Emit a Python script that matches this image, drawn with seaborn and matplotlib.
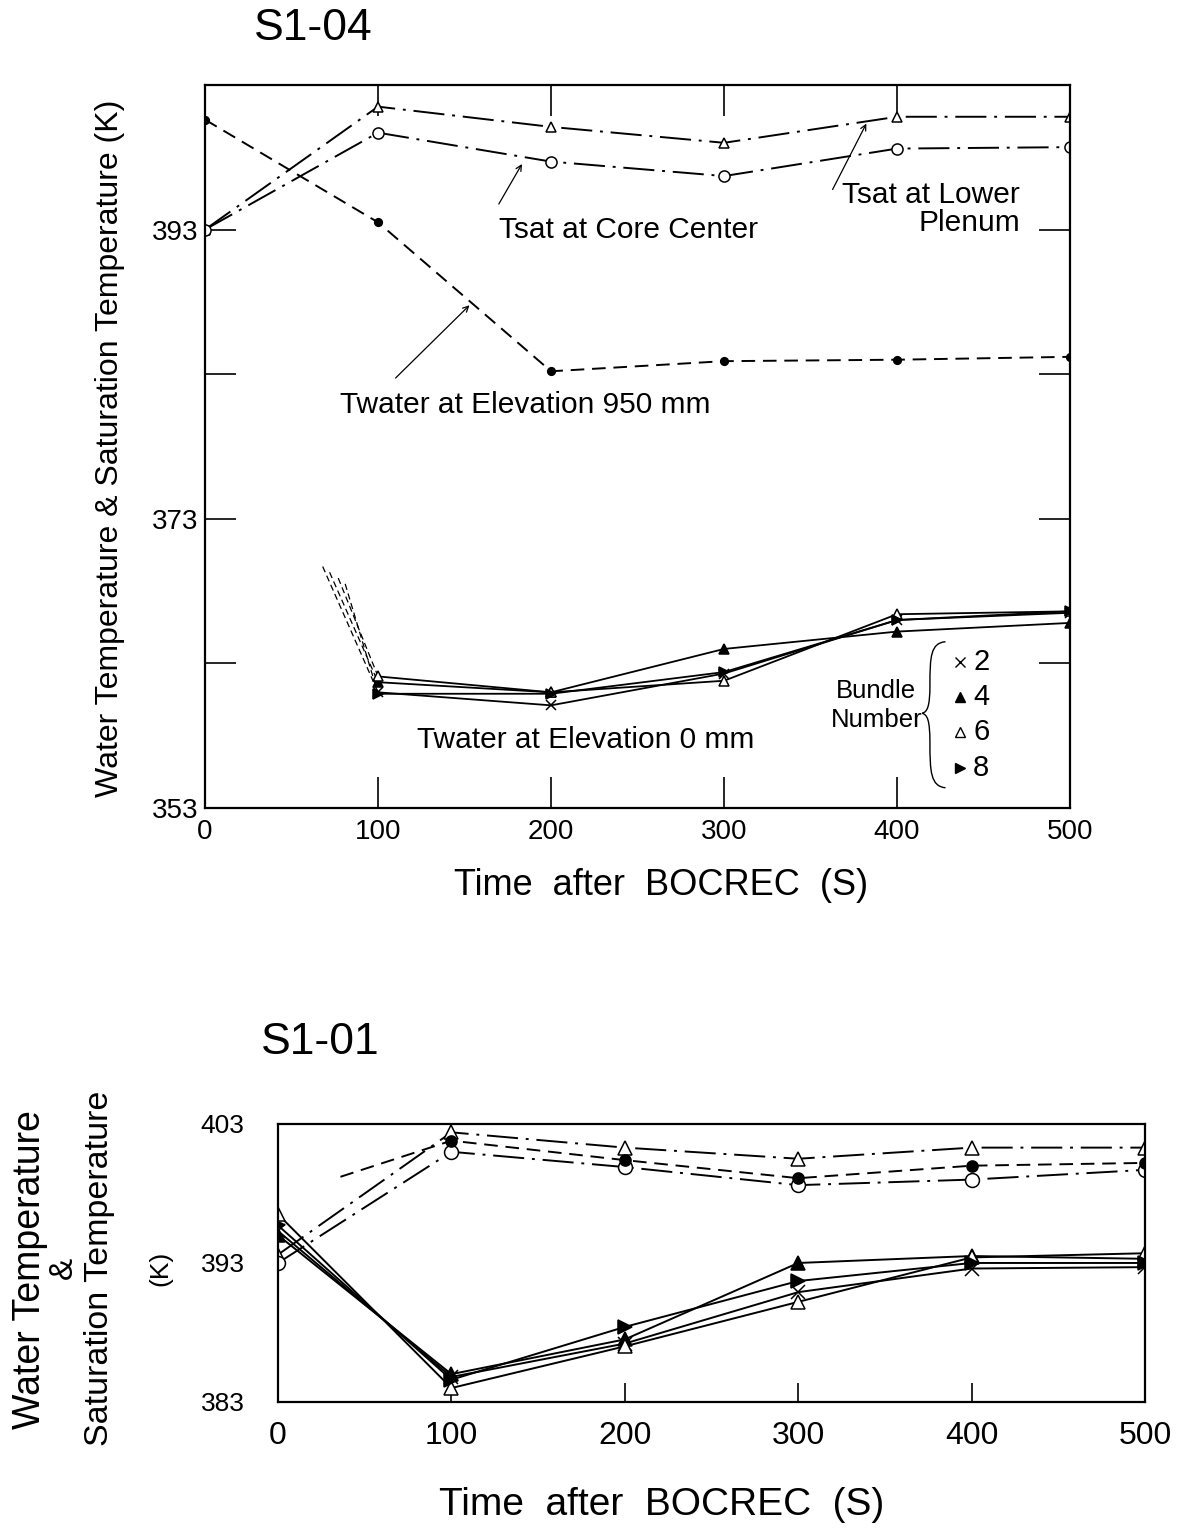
import numpy as np
import pandas as pd
import matplotlib
matplotlib.use("Agg")
import matplotlib.pyplot as plt
import seaborn as sns
from matplotlib.path import Path
from matplotlib.patches import PathPatch

# ---------------- data ----------------
time_s = [0, 100, 200, 300, 400, 500]
time_bundle = [100, 200, 300, 400, 500]

# Run S1-04
s104_tsat_lower = [393.0, 401.5, 400.1, 399.0, 400.8, 400.8]
s104_tsat_core = [393.0, 399.7, 397.7, 396.7, 398.6, 398.7]
s104_water_950 = [400.6, 393.5, 383.2, 383.9, 384.0, 384.2]
s104_bundle2 = [361.0, 360.1, 362.3, 366.0, 366.5]
s104_bundle4 = [361.7, 361.0, 364.0, 365.2, 365.8]
s104_bundle6 = [362.1, 361.0, 361.8, 366.4, 366.6]
s104_bundle8 = [360.9, 360.9, 362.4, 366.0, 366.6]
# early (unmeasured) approach of the bundle traces toward t = 100 s
s104_lead_time = [68, 72, 77, 81]
s104_lead_temp = [369.7, 369.3, 368.9, 368.5]

# Run S1-01
s101_tsat_lower = [393.6, 402.4, 401.3, 400.5, 401.3, 401.3]
s101_tsat_core = [393.0, 401.0, 399.9, 398.6, 399.0, 399.7]
s101_water_time = [36, 100, 200, 300, 400, 500]
s101_water_950 = [399.2, 401.8, 400.4, 399.1, 400.0, 400.2]
s101_bundle2 = [395.3, 384.8, 387.2, 390.9, 392.6, 392.7]
s101_bundle4 = [395.0, 385.0, 387.5, 393.0, 393.5, 393.3]
s101_bundle6 = [396.5, 384.0, 387.0, 390.2, 393.4, 393.7]
s101_bundle8 = [395.7, 384.6, 388.4, 391.7, 393.0, 393.0]

bundle_labels = ["2", "4", "6", "8"]
bundle_markers = ["x", "^", "^", ">"]
bundle_faces = ["black", "black", "white", "black"]

x_ticks = [0, 100, 200, 300, 400, 500]

# ---------------- style ----------------
sns.set_style("ticks")
plt.rcParams["font.family"] = ["Liberation Sans", "DejaVu Sans"]
plt.rcParams.update({
    "axes.linewidth": 1.6,
    "axes.edgecolor": "black",
    "text.color": "black",
    "xtick.color": "black",
    "ytick.color": "black",
    "xtick.labelcolor": "black",
    "ytick.labelcolor": "black",
})

DASHDOT = (0, (16, 4, 1.5, 4))
DASHED = (0, (7, 4))


def trace(ax, x, y, marker, ms, ls="-", face="black", lw=1.4, **kw):
    sns.lineplot(x=x, y=y, ax=ax, color="black", linestyle=ls, linewidth=lw,
                 marker=marker, markersize=ms, markerfacecolor=face,
                 markeredgecolor="black", markeredgewidth=1.1,
                 sort=False, estimator=None, legend=False, **kw)


fig = plt.figure(figsize=(11.79, 15.28), dpi=100)

# ================= S1-04 =================
ax1 = fig.add_axes([0.1739, 0.4712, 0.7337, 0.4732])
trace(ax1, time_s, s104_tsat_lower, "^", 7, face="white", ls=DASHDOT)
trace(ax1, time_s, s104_tsat_core, "o", 8, face="white", ls=DASHDOT)
trace(ax1, time_s, s104_water_950, "o", 5.5, ls=DASHED)

s104_bundles = [s104_bundle2, s104_bundle4, s104_bundle6, s104_bundle8]
for vals, mk, fc, t0, v0 in zip(s104_bundles, bundle_markers, bundle_faces,
                                s104_lead_time, s104_lead_temp):
    sns.lineplot(x=[t0, time_bundle[0]], y=[v0, vals[0]], ax=ax1, color="black",
                 linestyle=(0, (5, 3)), linewidth=0.9, sort=False,
                 estimator=None, legend=False)
    trace(ax1, time_bundle, vals, mk, 7, face=fc, ls="-", lw=1.3)

ax1.set_xlim(0, 500)
ax1.set_ylim(353, 403)
ax1.set_xticks(x_ticks)
ax1.set_xticklabels([str(v) for v in x_ticks])
ax1.set_yticks([353, 363, 373, 383, 393, 403])
ax1.set_yticklabels(["353", "", "373", "", "393", ""])
ax1.tick_params(direction="in", length=22, width=1.2, top=True, right=True,
                labelsize=20, pad=8)
ax1.tick_params(axis="y", pad=5)
ax1.set_xlabel("")
ax1.set_ylabel("")

txt = dict(fontsize=21.5, color="black")
ax1.text(245, 393.0, "Tsat at Core Center", ha="center", va="center", **txt)
ax1.annotate("", xy=(184, 397.7), xytext=(169, 394.6),
             arrowprops=dict(arrowstyle="->", lw=0.9, color="black"))
ax1.text(471, 394.4, "Tsat at Lower\nPlenum", ha="right", va="center",
         linespacing=1.0, **txt)
ax1.annotate("", xy=(383, 400.5), xytext=(362, 395.6),
             arrowprops=dict(arrowstyle="->", lw=0.9, color="black"))
ax1.text(185, 380.9, "Twater at Elevation 950 mm", ha="center", va="center", **txt)
ax1.annotate("", xy=(154, 387.9), xytext=(109, 382.6),
             arrowprops=dict(arrowstyle="->", lw=0.9, color="black"))
ax1.text(220, 357.7, "Twater at Elevation 0 mm", ha="center", va="center", **txt)

# bundle key with a curly brace
ax1.text(0.776, 0.142, "Bundle\nNumber", transform=ax1.transAxes, ha="center",
         va="center", linespacing=1.25, fontsize=18.5)
brace = Path(
    [(0.856, 0.230), (0.839, 0.228), (0.838, 0.21), (0.838, 0.17),
     (0.838, 0.14), (0.835, 0.133), (0.829, 0.131),
     (0.835, 0.129), (0.838, 0.122), (0.838, 0.09),
     (0.838, 0.05), (0.839, 0.030), (0.856, 0.028)],
    [Path.MOVETO] + [Path.CURVE4] * 12)
ax1.add_patch(PathPatch(brace, transform=ax1.transAxes, fill=False, lw=1.0,
                        edgecolor="black"))
key_y = [0.202, 0.154, 0.105, 0.055]
for lab, mk, fc, ky in zip(bundle_labels, bundle_markers, bundle_faces, key_y):
    ax1.plot([0.873], [ky], transform=ax1.transAxes, marker=mk, markersize=7,
             markerfacecolor=fc, markeredgecolor="black", markeredgewidth=1.0,
             linestyle="none", clip_on=False)
    ax1.text(0.888, ky, lab, transform=ax1.transAxes, ha="left", va="center",
             fontsize=21)

fig.text(313 / 1179, 1 - 28 / 1528, "S1-04", ha="center", va="center",
         fontsize=32)
fig.text(110 / 1179, 1 - 448 / 1528,
         "Water Temperature & Saturation Temperature (K)",
         rotation=90, ha="center", va="center", fontsize=23)
fig.text(661 / 1179, 1 - 885 / 1528, "Time  after  BOCREC  (S)", ha="center",
         va="center", fontsize=26)

# ================= S1-01 =================
ax2 = fig.add_axes([0.2358, 0.0825, 0.7354, 0.1819])
trace(ax2, time_s, s101_tsat_lower, "^", 10, face="white", ls=DASHDOT)
trace(ax2, time_s, s101_tsat_core, "o", 10, face="white", ls=DASHDOT)
trace(ax2, s101_water_time, s101_water_950, "o", 8, ls=DASHED,
      markevery=[1, 2, 3, 4, 5])
s101_bundles = [s101_bundle2, s101_bundle4, s101_bundle6, s101_bundle8]
for vals, mk, fc in zip(s101_bundles, bundle_markers, bundle_faces):
    trace(ax2, time_s, vals, mk, 10, face=fc, ls="-", lw=1.4)

ax2.set_xlim(0, 500)
ax2.set_ylim(383, 403)
ax2.set_xticks(x_ticks)
ax2.set_xticklabels([str(v) for v in x_ticks])
ax2.set_yticks([383, 393, 403])
ax2.set_yticklabels(["383", "393", "403"])
ax2.tick_params(axis="x", direction="in", length=14, width=1.2, labelsize=23,
                pad=14)
ax2.tick_params(axis="y", direction="in", length=6, width=1.2, labelsize=19,
                pad=24)
ax2.set_xlabel("")
ax2.set_ylabel("")

fig.text(320 / 1179, 1 - 1042 / 1528, "S1-01", ha="center", va="center",
         fontsize=32)
fig.text(30 / 1179, 1 - 1270 / 1528, "Water Temperature", rotation=90,
         ha="center", va="center", fontsize=27)
fig.text(63 / 1179, 1 - 1268 / 1528, "&", rotation=90, ha="center",
         va="center", fontsize=24)
fig.text(100 / 1179, 1 - 1268 / 1528, "Saturation Temperature", rotation=90,
         ha="center", va="center", fontsize=24.5)
fig.text(160 / 1179, 1 - 1268 / 1528, "(K)", rotation=90, ha="center",
         va="center", fontsize=19)
fig.text(662 / 1179, 1 - 1505 / 1528, "Time  after  BOCREC  (S)", ha="center",
         va="center", fontsize=28)

fig.savefig("out.png", dpi=100, facecolor="white")
